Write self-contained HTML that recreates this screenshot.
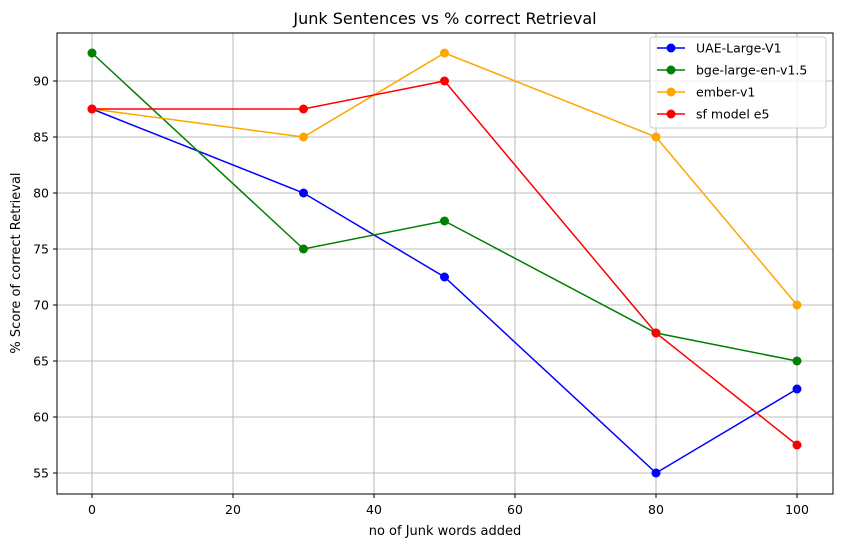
<!DOCTYPE html>
<html><head><meta charset="utf-8"><style>
body{margin:0;background:#fff;font-family:"Liberation Sans","DejaVu Sans",sans-serif;}
svg text{font-family:"DejaVu Sans","Liberation Sans",sans-serif;}
</style></head><body>
<svg id="chart" width="841" height="547" viewBox="0 0 841 547">
<rect width="841" height="547" fill="#fff"/>
<g id="grid"></g>
<g id="series"></g>
<rect x="57" y="33" width="776" height="461" fill="none" stroke="#000" stroke-width="1"/>
<g id="ticks"></g>
<text x="445" y="24" text-anchor="middle" font-size="16">Junk Sentences vs % correct Retrieval</text>
<text x="445" y="535" text-anchor="middle" font-size="13">no of Junk words added</text>
<text transform="translate(20,263) rotate(-90)" text-anchor="middle" font-size="13">% Score of correct Retrieval</text>
<g id="legend"></g>
</svg>
<script>
const categories=[0,30,50,80,100];
const seriesNames=["UAE-Large-V1","bge-large-en-v1.5","ember-v1","sf model e5"];
const uae=[87.5,80,72.5,55,62.5];
const bge=[92.5,75,77.5,67.5,65];
const ember=[87.5,85,92.5,85,70];
const sf=[87.5,87.5,90,67.5,57.5];
const xTicks=[0,20,40,60,80,100];
const yTicks=[55,60,65,70,75,80,85,90];
const colors=["#0000ff","#008000","#ffa500","#ff0000"];
const allSeries=[uae,bge,ember,sf];
const NS="http://www.w3.org/2000/svg";
function xs(v){return 92+v*7.05;}
function ys(v){return 473-(v-55)*11.2;}
function mk(t,a,p){const e=document.createElementNS(NS,t);for(const k in a)e.setAttribute(k,a[k]);p.appendChild(e);return e;}
const grid=document.getElementById('grid'),ticks=document.getElementById('ticks');
xTicks.forEach(v=>{const x=xs(v);
const g=mk('line',{x1:x,x2:x,y1:33,y2:494,stroke:'#a8a8a8','stroke-width':0.8},grid);


mk('line',{x1:x,x2:x,y1:494,y2:498,stroke:'#000'},ticks);
const t=mk('text',{x:x,y:514,'text-anchor':'middle','font-size':'12.5'},ticks);t.textContent=v;

});
yTicks.forEach(v=>{const y=ys(v);
const g=mk('line',{x1:57,x2:833,y1:y,y2:y,stroke:'#a8a8a8','stroke-width':0.8},grid);


mk('line',{x1:53,x2:57,y1:y,y2:y,stroke:'#000'},ticks);
const t=mk('text',{x:49,y:y+4.5,'text-anchor':'end','font-size':'12.5'},ticks);t.textContent=v;

});
const sg=document.getElementById('series');
allSeries.forEach((s,i)=>{
const pts=s.map((v,j)=>xs(categories[j])+','+ys(v)).join(' ');
const l=mk('polyline',{points:pts,fill:'none',stroke:colors[i],'stroke-width':1.5},sg);


s.forEach((v,j)=>{const c=mk('circle',{cx:xs(categories[j]),cy:ys(v),r:4.5,fill:colors[i]},sg);

});});
const lg=document.getElementById('legend');
mk('rect',{x:650,y:37,width:176,height:91,rx:3,fill:'#fff','fill-opacity':0.8,stroke:'#ccc'},lg);
seriesNames.forEach((n,i)=>{const y=48+i*22;
mk('line',{x1:657,x2:685,y1:y,y2:y,stroke:colors[i],'stroke-width':1.5},lg);
mk('circle',{cx:671,cy:y,r:4.5,fill:colors[i]},lg);
const t=mk('text',{x:696,y:y+4.5,'font-size':'12.5'},lg);t.textContent=n;

});
</script>
</body></html>
